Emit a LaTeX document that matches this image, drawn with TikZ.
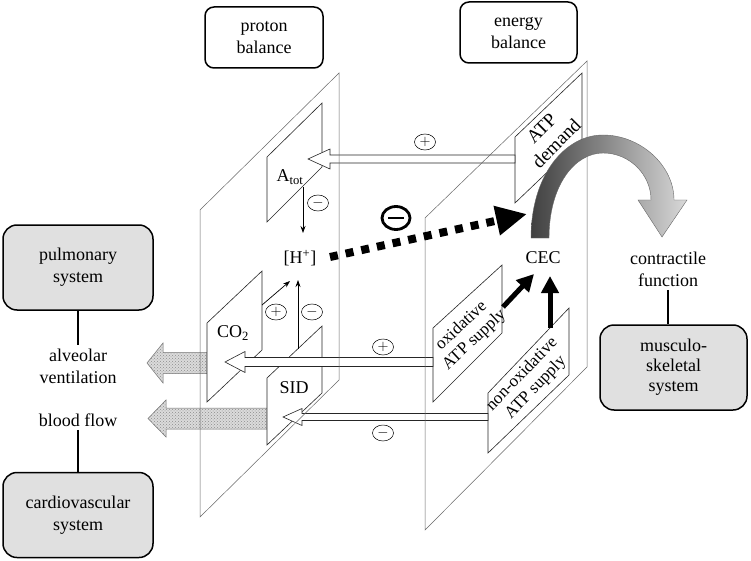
\documentclass[tikz,border=0pt]{standalone}
\usepackage{fontspec}
\setmainfont{Liberation Serif}
\usepackage{tikz}
\usetikzlibrary{positioning,shapes.geometric,arrows.meta,patterns}

% left-pointing block arrow: style, tip x, mid y, head base x, tail x, half shaft, half head
\newcommand{\blockarrow}[7]{%
  \draw[#1] (#2,#3) -- (#4,#3-#7) -- (#4,#3-#6) -- (#5,#3-#6) -- (#5,#3+#6) -- (#4,#3+#6) -- (#4,#3+#7) -- cycle;}

\begin{document}
\begin{tikzpicture}[x=1pt, y=-1pt,
    every node/.style={font=\fontsize{18}{22}\selectfont, align=center},
    topbox/.style={draw, line width=1.5pt, rounded corners=9pt, fill=white, minimum width=118pt, minimum height=61pt},
    sysbox/.style={topbox, fill=black!12, minimum width=150pt, minimum height=85pt, rounded corners=14pt},
    plane/.style={draw=black!60, line width=0.5pt},
    panel/.style={draw=black!85, fill=white, line width=0.6pt},
    hollow/.style={draw=black!85, fill=white, line width=0.6pt},
    flow/.style={draw=black!55, fill=black!14, line width=0.5pt, postaction={pattern=crosshatch dots, pattern color=black!45}},
    sign/.style={draw, ellipse, line width=0.5pt, inner sep=0pt, minimum width=21pt, minimum height=16pt, font=\fontsize{14}{14}\selectfont},
    thinarrow/.style={-{Stealth[length=7pt,width=5pt]}, line width=0.7pt},
    thickarrow/.style={-{Triangle[length=17pt,width=17pt]}, line width=5pt},
    paneltext/.style={font=\fontsize{17}{19}\selectfont},
    sysline/.style={line width=1.5pt}]
    \useasboundingbox (0,0) rectangle (751,561);

    % grey flows leaving the proton plane
    \blockarrow{flow}{147}{363}{163}{207}{10.5}{20}
    \blockarrow{flow}{148}{418.5}{166}{267}{10.5}{18.5}

    % panels inside the two planes
    \draw[panel] (267,222) -- (267,157) -- (322,103) -- (322,167) -- cycle;
    \draw[panel] (207,402) -- (207,323) -- (262,271) -- (262,350) -- cycle;
    \draw[panel] (267,445) -- (267,378) -- (322,326) -- (322,393) -- cycle;
    \draw[panel] (515,203) -- (515,137) -- (582,73) -- (582,139) -- cycle;
    \draw[panel] (433,402) -- (433,328) -- (502,265) -- (502,333) -- cycle;
    \draw[panel] (488,453) -- (488,393) -- (569,308) -- (569,375) -- cycle;

    % open arrows between the planes
    \blockarrow{hollow}{308}{159}{330}{515}{4}{10}
    \blockarrow{hollow}{225}{362}{245}{433}{4.5}{10.5}
    \blockarrow{hollow}{283}{417}{302}{488}{3.5}{8.5}

    % proton and energy planes
    \draw[plane] (200,210) -- (339,73) -- (339,380) -- (200,517) -- cycle;
    \draw[plane] (425,218) -- (587,61) -- (587,367) -- (425,530) -- cycle;

    % texts on the panels
    \node (atot) at (290,177) {A\textsubscript{tot}};
    \node (hplus) at (300,258) {[H\textsuperscript{+}]};
    \node (co2) at (233,333) {CO\textsubscript{2}};
    \node (sid) at (294,388) {SID};
    \node (cec) at (543,258) {CEC};
    \node[rotate=45, font=\fontsize{19}{21}\selectfont] (demand) at (549,136) {ATP\\demand};
    \node[rotate=43, paneltext] (oxi) at (468,333) {oxidative\\ATP supply};
    \node[rotate=46, paneltext] (nonoxi) at (529,381) {non-oxidative\\ATP supply};

    % ends of the connectors
    \coordinate (atot foot) at (303,187);
    \coordinate (h in1) at (303,233);
    \coordinate (co2 out) at (262,305);
    \coordinate (h in2) at (290,281);
    \coordinate (sid out) at (298,349);
    \coordinate (h in3) at (298,280);
    \coordinate (h out) at (330,257);
    \coordinate (cec in0) at (527,214);
    \coordinate (oxi out) at (503,307);
    \coordinate (cec in1) at (534,274);
    \coordinate (nonoxi out) at (550,328);
    \coordinate (cec in2) at (550,276);

    \draw[thinarrow] (atot foot) -- (h in1);
    \draw[thinarrow] (co2 out) -- (h in2);
    \draw[thinarrow] (sid out) -- (h in3);

    % signs
    \node[sign] (s1) at (425,142) {$+$};
    \node[sign] (s2) at (318,203) {$-$};
    \node[sign] (s3) at (276,312) {$+$};
    \node[sign] (s4) at (312,312) {$-$};
    \node[sign] (s5) at (383,347) {$+$};
    \node[sign] (s6) at (383,433) {$-$};
    \node[draw, ellipse, line width=2.8pt, minimum width=28pt, minimum height=23pt, inner sep=0pt] (inhib) at (396,218) {};
    \draw[line width=2.8pt] ([xshift=-8pt]inhib.center) -- ([xshift=8pt]inhib.center);

    % inhibition of CEC by protons
    \draw[line width=8pt, dash pattern=on 8pt off 8pt, -{Triangle[length=31pt,width=28pt]}] (h out) -- (cec in0);
    \draw[thickarrow] (oxi out) -- (cec in1);
    \draw[thickarrow] (nonoxi out) -- (cec in2);

    % contractile output
    \shadedraw[left color=black!75, middle color=black!40, right color=black!15, draw=black!60, line width=0.4pt]
        (531,238) .. controls (531,175) and (565,135) .. (603,135)
        .. controls (640,135) and (674,165) .. (674,200)
        -- (687,200) -- (662,237) -- (638,200) -- (651,200)
        .. controls (651,175) and (630,153) .. (603,153)
        .. controls (575,153) and (549,185) .. (549,238) -- cycle;

    % boxes
    \node[topbox] (proton) at (264,37.5) {proton\\balance};
    \node[topbox, minimum width=117pt] (energy) at (518.5,32.5) {energy\\balance};
    \node[sysbox] (pulm) at (78,267.5) {pulmonary\\system};
    \node (alv) at (78,366) {alveolar\\ventilation};
    \node (blood) at (78,420) {blood flow};
    \node[sysbox] (cardio) at (78,515) {cardiovascular\\system};
    \node (contr) at (668,269) {contractile\\function};
    \node[sysbox, minimum width=147pt, font=\fontsize{18}{20}\selectfont] (musc) at (673.5,367.5) {musculo-\\skeletal\\system};
    \draw[sysline] (pulm.south) -- (pulm.south |- alv.north);
    \draw[sysline] (blood.south) -- (blood.south |- cardio.north);
    \draw[sysline] (contr.south) -- (contr.south |- musc.north);
\end{tikzpicture}
\end{document}
